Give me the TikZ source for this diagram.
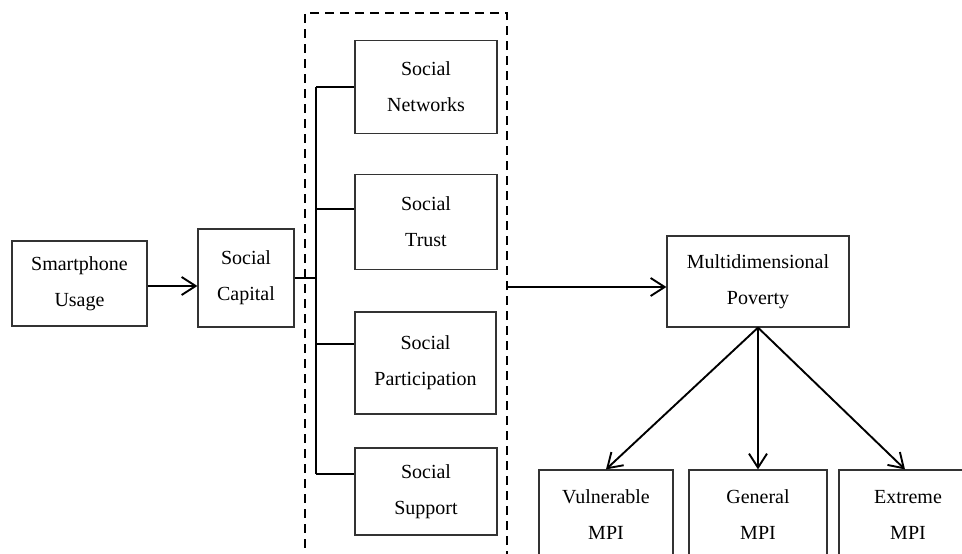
\documentclass[tikz,border=0pt]{standalone}
\usepackage{fontspec}
\setmainfont{Liberation Serif}
\usepackage{tikz}
\usetikzlibrary{calc, arrows.meta, positioning}

\begin{document}
\begin{tikzpicture}[x=1pt, y=-1pt, >={Straight Barb[length=14pt, width=18pt]}, font=\fontsize{20}{36}\selectfont]
		\tikzstyle{box} = [draw=black!80, line width=1.2pt, rectangle, align=center, inner sep=0pt]
		\tikzstyle{arrow} = [line width=1.9pt, ->]
		\tikzstyle{branch} = [line width=1.9pt]
		
		\useasboundingbox (0, 0) rectangle (962, 554);
		\clip (0, 0) rectangle (962, 554);
		
		% dashed group round the four dimensions
		\node[draw, line width=1.9pt, dash pattern=on 9pt off 6pt, minimum width=202pt, minimum height=600pt] at (406, 313) (group) {};
		
		\node[box, minimum width=135pt, minimum height=85pt]	at (79.5, 283.5)	(usage)	{Smartphone\\Usage};
		\node[box, minimum width=96pt, minimum height=98pt]	at (246, 278)	(capital)	{Social\\Capital};
		
		\node[box, minimum width=142pt, minimum height=93pt]	at (426, 87)	(networks)	{Social\\Networks};
		\node[box, minimum width=142pt, minimum height=95pt]	at (426, 222)	(trust)	{Social\\Trust};
		\node[box, minimum width=141pt, minimum height=102pt]	at (425.5, 363)	(participation)	{Social\\Participation};
		\node[box, minimum width=142pt, minimum height=87pt]	at (426, 491.5)	(support)	{Social\\Support};
		
		\node[box, minimum width=182pt, minimum height=91pt]	at (758, 281.5)	(poverty)	{Multidimensional\\Poverty};
		
		\node[box, minimum width=134pt, minimum height=90pt]	at (606, 515)	(vulnerable)	{Vulnerable\\MPI};
		\node[box, minimum width=138pt, minimum height=90pt]	at (758, 515)	(general)	{General\\MPI};
		\node[box, minimum width=138pt, minimum height=90pt]	at (908, 515)	(extreme)	{Extreme\\MPI};
		
		\coordinate (spinetop) at (316, 87);
		\coordinate (spinebot) at (316, 474);
		
		\draw [arrow] (usage.east |- 0, 286) -- (capital.west |- 0, 286);
		\draw [branch] (capital.east) -- (capital.east -| spinetop);
		\draw [branch] (spinetop) -- (spinebot);
		\draw [branch] (spinetop) -- (networks.west);
		\draw [branch] (spinetop |- 0, 209) -- ([yshift=13pt]trust.west);
		\draw [branch] (spinetop |- 0, 344) -- ([yshift=19pt]participation.west);
		\draw [branch] (spinebot) -- ([yshift=17.5pt]support.west);
		
		\draw [arrow] ([yshift=-5.5pt]poverty.west -| group.east) -- ([yshift=-5.5pt]poverty.west);
		
		\draw [arrow] (poverty.south) -- (vulnerable.north);
		\draw [arrow] (poverty.south) -- (general.north);
		\draw [arrow] (poverty.south) -- ([xshift=-3pt]extreme.north);
	\end{tikzpicture}
\end{document}
